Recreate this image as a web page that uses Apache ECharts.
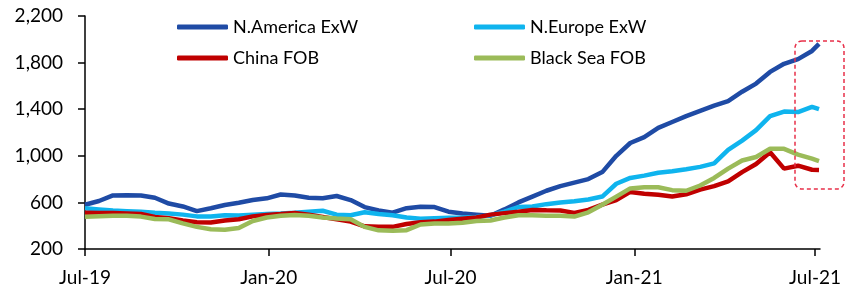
<!DOCTYPE html>
<html>
<head>
<meta charset="utf-8">
<script src="https://cdn.jsdelivr.net/npm/echarts@6/dist/echarts.min.js"></script>
<style>
html, body { margin: 0; padding: 0; background: #fff; }
#chart { width: 846px; height: 292px; }
</style>
</head>
<body>
<div id="chart"></div>
<script>
var dates = [
	'2019-07-01','2019-07-15','2019-07-29','2019-08-12','2019-08-26','2019-09-09','2019-09-23','2019-10-07','2019-10-21','2019-11-04',
	'2019-11-18','2019-12-02','2019-12-16','2019-12-30','2020-01-13','2020-01-27','2020-02-10','2020-02-24','2020-03-09','2020-03-23',
	'2020-04-06','2020-04-20','2020-05-04','2020-05-18','2020-06-01','2020-06-15','2020-06-29','2020-07-13','2020-07-27','2020-08-10',
	'2020-08-24','2020-09-07','2020-09-21','2020-10-05','2020-10-19','2020-11-02','2020-11-16','2020-11-30','2020-12-14','2020-12-28',
	'2021-01-11','2021-01-25','2021-02-08','2021-02-22','2021-03-08','2021-03-22','2021-04-05','2021-04-19','2021-05-03','2021-05-17',
	'2021-05-31','2021-06-14','2021-06-28','2021-07-05'
];

var naExw = [
	580,612,660,662,660,640,590,565,525,550,
	578,597,620,635,668,660,640,635,655,620,
	560,530,512,550,563,560,520,505,495,485,
	540,600,650,700,740,770,800,860,1000,1110,
	1160,1240,1290,1340,1385,1430,1470,1550,1620,1720,
	1790,1830,1900,1960
];
var euExw = [
	549,540,530,525,520,512,505,495,480,478,
	490,488,495,500,505,512,520,528,495,490,
	515,500,490,470,460,465,468,470,475,490,
	520,560,565,585,600,610,625,650,760,810,
	830,855,868,885,905,935,1050,1130,1220,1340,
	1380,1375,1420,1400
];
var chinaFob = [
	512,510,508,505,500,475,465,445,430,428,
	445,455,480,492,500,510,495,475,455,435,
	395,390,390,415,430,435,450,460,470,495,
	508,520,535,532,530,510,535,580,620,690,
	675,665,650,670,710,740,780,860,930,1030,
	890,915,880,878
];
var blackSeaFob = [
	477,482,486,485,478,458,455,420,390,370,
	365,380,440,470,485,492,485,470,462,455,
	390,360,357,362,410,418,418,425,440,445,
	470,490,490,485,485,478,515,580,650,720,
	730,730,705,700,745,810,890,960,990,1060,
	1060,1010,975,955
];

var tickDates = ['2019-07-01','2020-01-01','2020-07-01','2021-01-01','2021-07-01'];
var monthNames = ['Jan','Feb','Mar','Apr','May','Jun','Jul','Aug','Sep','Oct','Nov','Dec'];

function ts(s){
	var p = s.split('-');
	return Date.UTC(+p[0], +p[1] - 1, +p[2]);
}
function toPairs(vals){
	var out = [];
	for(var i = 0; i < vals.length; i++){
		out.push([ts(dates[i]), vals[i]]);
	}
	return out;
}
var tickVals = tickDates.map(ts);

var fontFam = 'Lato';
var myChart = echarts.init(document.getElementById('chart'));

function makeSeries(name, vals, color){
	return {
		name: name,
		type: 'line',
		data: toPairs(vals),
		showSymbol: false,
		symbol: 'none',
		lineStyle: { color: color, width: 4.5 },
		itemStyle: { color: color },
		animation: false
	};
}

var legendText = { fontFamily: fontFam, fontSize: 18, color: '#000', lineHeight: 20 };

myChart.setOption({
	backgroundColor: '#fff',
	animation: false,
	grid: { left: 85, right: 26, top: 16, bottom: 43 },
	legend: [{
		orient: 'vertical',
		left: 177,
		top: 17,
		padding: 0,
		itemWidth: 51,
		itemHeight: 5,
		itemGap: 11,
		icon: 'roundRect',
		textStyle: legendText,
		data: ['N.America ExW', 'China FOB']
	},{
		orient: 'vertical',
		left: 474,
		top: 17,
		padding: 0,
		itemWidth: 51,
		itemHeight: 5,
		itemGap: 11,
		icon: 'roundRect',
		textStyle: legendText,
		data: ['N.Europe ExW', 'Black Sea FOB']
	}],
	xAxis: {
		type: 'value',
		min: ts('2019-07-01'),
		max: ts('2021-07-06'),
		splitLine: { show: false },
		axisLine: { lineStyle: { color: '#000', width: 1.5 } },
		axisTick: { show: true, length: 7, customValues: tickVals, lineStyle: { color: '#000', width: 1.5 } },
		axisLabel: {
			customValues: tickVals,
			margin: 19,
			color: '#000',
			fontFamily: fontFam,
			fontSize: 19,
			formatter: function(v){
				var d = new Date(v);
				return monthNames[d.getUTCMonth()] + '-' + String(d.getUTCFullYear()).slice(2);
			}
		}
	},
	yAxis: {
		type: 'value',
		min: 200,
		max: 2200,
		interval: 400,
		splitLine: { show: false },
		axisLine: { show: true, lineStyle: { color: '#000', width: 1.5 } },
		axisTick: { show: true, length: 7, lineStyle: { color: '#000', width: 1.5 } },
		axisLabel: {
			color: '#000',
			fontFamily: fontFam,
			fontSize: 19,
			margin: 22,
			formatter: function(v){ return v.toLocaleString('en-US'); }
		}
	},
	graphic: [{
		type: 'rect',
		shape: { x: 795, y: 41, width: 49, height: 148, r: 7 },
		style: { fill: 'none', stroke: '#E8304A', lineWidth: 1.5, lineDash: [4, 3] },
		z: 100
	}],
	series: [
		makeSeries('N.America ExW', naExw, '#1F4BA5'),
		makeSeries('N.Europe ExW', euExw, '#0FB4EE'),
		makeSeries('China FOB', chinaFob, '#C00000'),
		makeSeries('Black Sea FOB', blackSeaFob, '#9BBB59')
	]
});
</script>
</body>
</html>
